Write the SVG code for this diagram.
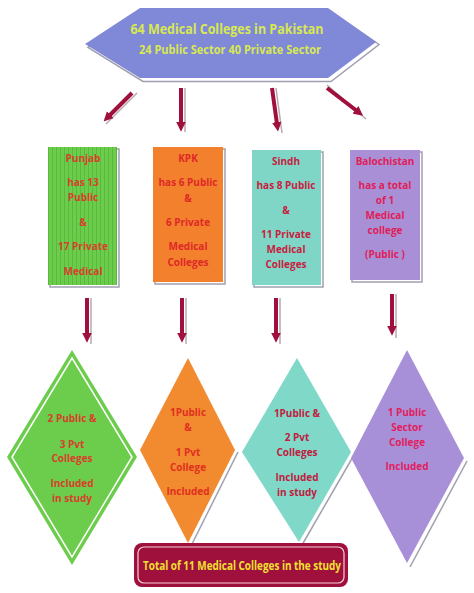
<svg xmlns="http://www.w3.org/2000/svg" width="474" height="593" viewBox="0 0 474 593">
<style>
text{font-family:"Open Sans","Liberation Sans",sans-serif;font-weight:bold;text-anchor:middle}
.t{font-size:10px}
.arr{stroke:#a0103c;stroke-width:4;fill:none;marker-end:url(#ah)}
.sh{stroke:#b8a8b0;stroke-width:1.5;fill:none}
.shd{fill:none;stroke:#a0a0b0;stroke-width:1.5}
</style>
<defs>
<marker id="ah" viewBox="0 0 10 10" refX="2" refY="5" markerWidth="2.4" markerHeight="2.6" orient="auto" markerUnits="strokeWidth">
<path d="M0,0 L10,5 L0,10 Z" fill="#a0103c"/>
</marker>
<pattern id="vs" width="4" height="4" patternUnits="userSpaceOnUse"><rect width="4" height="4" fill="#6ccc4c"/><rect width="1" height="4" fill="#5ab83e"/></pattern>
</defs>
<rect width="474" height="593" fill="#ffffff"/>
<g id="connectors">
<line class="sh" x1="137" y1="93" x2="106" y2="124"/>
<line class="arr" x1="132" y1="93" x2="109" y2="116"/>
<line class="sh" x1="185" y1="88" x2="185" y2="132"/>
<line class="arr" x1="181" y1="88" x2="181" y2="124"/>
<line class="sh" x1="276" y1="88" x2="282" y2="133"/>
<line class="arr" x1="272" y1="88" x2="277" y2="124"/>
<line class="sh" x1="327" y1="85" x2="366" y2="119"/>
<line class="arr" x1="327" y1="88" x2="357" y2="111"/>
<line class="sh" x1="91" y1="298" x2="91" y2="344"/>
<line class="arr" x1="87" y1="298" x2="87" y2="335"/>
<line class="sh" x1="186" y1="298" x2="186" y2="344"/>
<line class="arr" x1="182" y1="298" x2="182" y2="335"/>
<line class="sh" x1="280" y1="298" x2="280" y2="344"/>
<line class="arr" x1="276" y1="298" x2="276" y2="335"/>
<line class="sh" x1="396" y1="294" x2="396" y2="338"/>
<line class="arr" x1="392" y1="294" x2="392" y2="328"/>
</g>
<g id="top">
<polygon points="87,46 142,10 330,10 378,43 330,80 142,80" class="shd" transform="translate(1,1.5)"/>
<polygon points="85,44 140,8 328,8 376,42 328,78 140,78" fill="#8088d8"/>
<text x="227" y="34" font-size="14" fill="#d8e850" textLength="193" lengthAdjust="spacingAndGlyphs">64 Medical Colleges in Pakistan</text>
<text x="230" y="54" font-size="12" fill="#d8e850" textLength="182" lengthAdjust="spacingAndGlyphs">24 Public Sector 40 Private Sector</text>
</g>
<g id="punjab">
<rect x="50" y="149" width="69" height="138" class="shd"/>
<rect x="48" y="147" width="69" height="138" fill="url(#vs)"/>
<g class="t" fill="#d8402a">
<text x="83" y="162">Punjab</text>
<text x="83" y="186">has 13</text>
<text x="83" y="201">Public</text>
<text x="83" y="226">&amp;</text>
<text x="83" y="250">17 Private</text>
<text x="83" y="275">Medical</text>
</g>
</g>
<g id="kpk">
<rect x="155" y="149" width="70" height="135" class="shd"/>
<rect x="153" y="147" width="70" height="135" fill="#f2802c"/>
<g class="t" fill="#e02828">
<text x="188" y="162">KPK</text>
<text x="188" y="186">has 6 Public</text>
<text x="188" y="202">&amp;</text>
<text x="188" y="226">6 Private</text>
<text x="188" y="250">Medical</text>
<text x="188" y="266">Colleges</text>
</g>
</g>
<g id="sindh">
<rect x="254" y="152" width="69" height="135" class="shd"/>
<rect x="252" y="150" width="69" height="135" fill="#7fd6c6"/>
<g class="t" fill="#c82040">
<text x="286" y="165">Sindh</text>
<text x="286" y="189">has 8 Public</text>
<text x="286" y="214">&amp;</text>
<text x="286" y="238">11 Private</text>
<text x="286" y="253">Medical</text>
<text x="286" y="268">Colleges</text>
</g>
</g>
<g id="balochistan">
<rect x="352" y="152" width="70" height="130" class="shd"/>
<rect x="350" y="150" width="70" height="130" fill="#a88fd6"/>
<g class="t" fill="#e02058">
<text x="385" y="165">Balochistan</text>
<text x="385" y="189">has a total</text>
<text x="385" y="204">of 1</text>
<text x="385" y="219">Medical</text>
<text x="385" y="234">college</text>
<text x="385" y="258">(Public )</text>
</g>
</g>
<g id="d1">
<polygon points="72,350 137,457 72,565 7,457" fill="#6ccc4c"/>
<polygon points="72,358 132,457 72,557 12,457" fill="none" stroke="#ffffff" stroke-width="1.5"/>
<g class="t" fill="#d8402a">
<text x="72" y="422">2 Public &amp;</text>
<text x="72" y="448">3 Pvt</text>
<text x="72" y="462">Colleges</text>
<text x="72" y="487">Included</text>
<text x="72" y="502">in study</text>
</g>
</g>
<g id="d2">
<polyline points="238,452 191,546" class="shd"/>
<polygon points="188,358 235,450 188,543 140,450" fill="#f28a30"/>
<g class="t" fill="#e03020">
<text x="188" y="416">1Public</text>
<text x="188" y="431">&amp;</text>
<text x="188" y="456">1 Pvt</text>
<text x="188" y="471">College</text>
<text x="188" y="495">Included</text>
</g>
</g>
<g id="d3">
<polyline points="354,455 302,545" class="shd"/>
<polygon points="297,358 351,452 299,542 242,452" fill="#7fd8c8"/>
<g class="t" fill="#c02040">
<text x="297" y="417">1Public &amp;</text>
<text x="297" y="441">2 Pvt</text>
<text x="297" y="456">Colleges</text>
<text x="297" y="481">Included</text>
<text x="297" y="496">in study</text>
</g>
</g>
<g id="d4">
<polyline points="467,461 410,567" class="shd" stroke="#8080b8"/>
<polygon points="407,350 464,458 407,563 351,458" fill="#a890d8"/>
<g class="t" fill="#e02060">
<text x="407" y="416">1 Public</text>
<text x="407" y="431">Sector</text>
<text x="407" y="446">College</text>
<text x="407" y="470">Included</text>
</g>
</g>
<g id="total">
<rect x="134" y="543" width="214" height="44" rx="8" fill="#a0103c"/>
<rect x="138" y="547" width="206" height="36" rx="6" fill="none" stroke="#f0d0d8" stroke-width="1.2"/>
<text x="242" y="570" font-size="13" fill="#f0e030" textLength="198" lengthAdjust="spacingAndGlyphs">Total of 11 Medical Colleges in the study</text>
</g>
</svg>
